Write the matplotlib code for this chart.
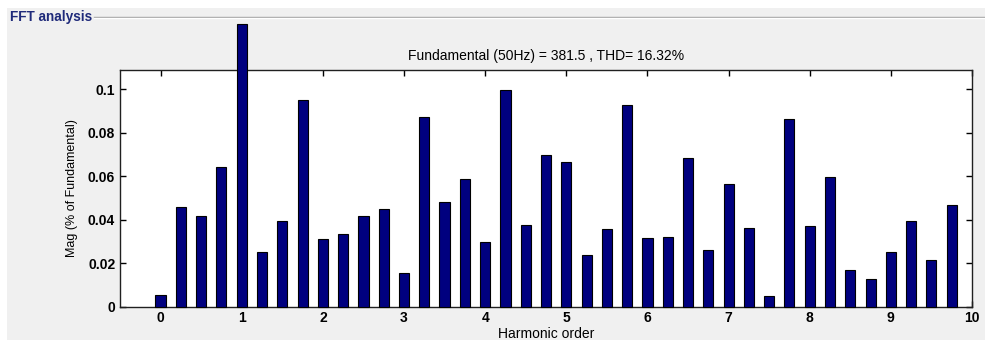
import matplotlib
matplotlib.use("Agg")
import matplotlib.pyplot as plt
from matplotlib.patches import Rectangle
from matplotlib.lines import Line2D

# Harmonic spectrum (orders in steps of 0.25, magnitude relative to fundamental)
orders = [0.0, 0.25, 0.5, 0.75, 1.0, 1.25, 1.5, 1.75, 2.0, 2.25,
          2.5, 2.75, 3.0, 3.25, 3.5, 3.75, 4.0, 4.25, 4.5, 4.75,
          5.0, 5.25, 5.5, 5.75, 6.0, 6.25, 6.5, 6.75, 7.0, 7.25,
          7.5, 7.75, 8.0, 8.25, 8.5, 8.75, 9.0, 9.25, 9.5, 9.75]
magnitudes = [0.0053, 0.0457, 0.0417, 0.0644, 0.130, 0.0252, 0.0395, 0.0951, 0.0311, 0.0335,
              0.0418, 0.0450, 0.0154, 0.0871, 0.0480, 0.0588, 0.0298, 0.0995, 0.0375, 0.0696,
              0.0665, 0.0237, 0.0358, 0.0928, 0.0314, 0.0320, 0.0684, 0.0260, 0.0565, 0.0361,
              0.0047, 0.0865, 0.0369, 0.0596, 0.0169, 0.0128, 0.0252, 0.0395, 0.0214, 0.0467]
xticks = [0, 1, 2, 3, 4, 5, 6, 7, 8, 9, 10]
yticks = [0, 0.02, 0.04, 0.06, 0.08, 0.1]
ytick_labels = ["0", "0.02", "0.04", "0.06", "0.08", "0.1"]

title_text = "Fundamental (50Hz) = 381.5 , THD= 16.32%"
panel_title = "FFT analysis"

plt.rcParams["font.family"] = ["Liberation Sans", "DejaVu Sans"]

W, H = 985, 340
fig = plt.figure(figsize=(W / 100, H / 100), dpi=100)
fig.patch.set_facecolor("white")

# grey panel background
fig.add_artist(Rectangle((7 / W, 0), 1 - 7 / W, 1 - 8 / H, transform=fig.transFigure,
                         facecolor="#f0f0f0", edgecolor="none", zorder=-10))
# group-box border line with the panel caption
ly = 1 - 17 / H
fig.add_artist(Line2D([94 / W, 1], [ly, ly], transform=fig.transFigure,
                      color="#a0a0a0", lw=1.0, zorder=-5))
fig.add_artist(Line2D([94 / W, 1], [ly - 1 / H, ly - 1 / H], transform=fig.transFigure,
                      color="white", lw=1.0, zorder=-5))
fig.text(10 / W, ly, panel_title, color="#1f2a7a", fontsize=9.8,
         ha="left", va="center", fontweight="bold")

ax = fig.add_axes([120 / W, (H - 306.5) / H, (972 - 120) / W, (306.5 - 70) / H])
ax.set_facecolor("white")

ax.bar(orders, magnitudes, width=0.125, color="#00007f", edgecolor="black",
       linewidth=0.8, align="center", clip_on=False, zorder=3)

ax.set_xlim(-0.5, 10)
ax.set_ylim(0, 0.1089)
ax.set_xticks(xticks)
ax.set_xticklabels([str(t) for t in xticks])
ax.set_yticks(yticks)
ax.set_yticklabels(ytick_labels)

ax.tick_params(direction="in", length=4, width=1.0, top=True, right=True,
               labelsize=10, pad=3.5, colors="black")
for lab in ax.get_xticklabels() + ax.get_yticklabels():
    lab.set_fontweight("bold")
for sp in ax.spines.values():
    sp.set_linewidth(1.0)
    sp.set_color("#202020")
    sp.set_zorder(2)

ax.set_xlabel("Harmonic order", fontsize=10, labelpad=1)
ax.set_ylabel("Mag (% of Fundamental)", fontsize=9, labelpad=7)
ax.set_title(title_text, fontsize=10, pad=7)

fig.savefig("out.png", dpi=100, facecolor=fig.get_facecolor())
